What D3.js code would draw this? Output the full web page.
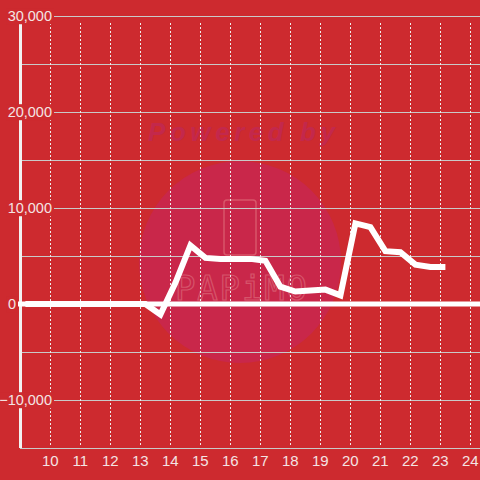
<!DOCTYPE html>
<html lang="en">
<head>
    <meta charset="UTF-8">
    <title>Chart</title>
    <script src="https://d3js.org/d3.v7.min.js"></script>
    <style>
        html, body { margin: 0; padding: 0; background: #cd2a2f; }
        #chart { width: 480px; height: 480px; }
    </style>
</head>
<body>
<div id="chart"></div>
<script>
    // half-hour readings, hours on x
    let hours = [9.17, 9.67, 10.17, 10.67, 11.17, 11.67, 12.17, 12.67, 13.17, 13.67, 14.17, 14.67,
        15.17, 15.67, 16.17, 16.67, 17.17, 17.67, 18.17, 18.67, 19.17, 19.67, 20.17, 20.67,
        21.17, 21.67, 22.17, 22.67, 23.17];
    let values = [0, 0, 0, 0, 0, 0, 0, 0, 0, -1100, 2200, 6100,
        4800, 4700, 4700, 4700, 4500, 1800, 1300, 1400, 1500, 900, 8400, 8000,
        5500, 5400, 4100, 3850, 3850];
    let xTicks = [10, 11, 12, 13, 14, 15, 16, 17, 18, 19, 20, 21, 22, 23, 24];
    let yGrid = [-15000, -10000, -5000, 5000, 10000, 15000, 20000, 25000, 30000];
    let yLabels = [30000, 20000, 10000, 0, -10000];

    let width = 480, height = 480;
    let bg = '#cd2a2f';
    let svg = d3.select('#chart').append('svg').attr('width', width).attr('height', height);
    svg.append('rect').attr('width', width).attr('height', height).attr('fill', bg);

    let x = d3.scaleLinear().domain([9, 24]).range([20.3, 470.3]);
    let y = d3.scaleLinear().domain([-15000, 30000]).range([448, 16]);

    // watermark
    let wm = svg.append('g');
    wm.append('circle').attr('cx', 240).attr('cy', 262).attr('r', 101).attr('fill', '#c9274a');
    wm.append('text').attr('x', 148).attr('y', 141)
        .attr('font-family', 'Liberation Sans, Arial, sans-serif')
        .attr('font-size', 26).attr('font-weight', 'bold').attr('font-style', 'italic')
        .attr('textLength', 187).attr('fill', '#c3284c').text('Powered by');
    wm.append('rect').attr('x', 224).attr('y', 200).attr('width', 32).attr('height', 55).attr('rx', 3)
        .attr('fill', 'none').attr('stroke', '#d8566a').attr('stroke-width', 1.5);
    wm.append('text').attr('x', 175).attr('y', 300)
        .attr('font-family', 'DejaVu Sans Mono, monospace')
        .attr('font-size', 34).attr('textLength', 132)
        .attr('fill', 'none').attr('stroke', '#d6546a').attr('stroke-width', 1.2).text('PAPiMO');

    // horizontal grid
    svg.append('g').selectAll('line').data(yGrid).join('line')
        .attr('x1', 20).attr('x2', width)
        .attr('y1', d => y(d) + 0.5).attr('y2', d => y(d) + 0.5)
        .attr('stroke', '#c9c9c9').attr('stroke-width', 1);

    // vertical dotted grid
    svg.append('g').selectAll('line').data(xTicks).join('line')
        .attr('x1', d => Math.round(x(d)) + 0.5).attr('x2', d => Math.round(x(d)) + 0.5)
        .attr('y1', 23).attr('y2', 446)
        .attr('stroke', '#eeeeee').attr('stroke-width', 1).attr('stroke-dasharray', '2,2');

    // y axis line
    svg.append('line').attr('x1', 20.5).attr('x2', 20.5).attr('y1', y(30000)).attr('y2', y(-15000))
        .attr('stroke', '#f2f2f2').attr('stroke-width', 3);

    // zero line
    svg.append('line').attr('x1', 17).attr('x2', width).attr('y1', y(0)).attr('y2', y(0))
        .attr('stroke', '#ffffff').attr('stroke-width', 5);

    // series line
    let line = d3.line().x((d, i) => x(hours[i])).y(d => y(d));
    svg.append('path').datum(values).attr('d', line)
        .attr('fill', 'none').attr('stroke', '#ffffff').attr('stroke-width', 6)
        .attr('stroke-linejoin', 'miter');

    // y labels with background
    let fmt = d3.format(',');
    let lab = svg.append('g').selectAll('g').data(yLabels).join('g');
    lab.append('rect').attr('fill', bg);
    lab.append('text')
        .attr('x', d => d === 0 ? 16 : 52)
        .attr('y', d => y(d))
        .attr('dy', '0.36em')
        .attr('text-anchor', 'end')
        .attr('font-family', 'Liberation Sans, Arial, sans-serif')
        .attr('font-size', 14.5)
        .attr('fill', '#f4e4e4')
        .text(d => fmt(d));
    lab.each(function () {
        let g = d3.select(this);
        let b = g.select('text').node().getBBox();
        g.select('rect').attr('x', b.x - 1).attr('y', b.y).attr('width', b.width + 3).attr('height', b.height);
    });

    // x labels
    svg.append('g').selectAll('text').data(xTicks).join('text')
        .attr('x', d => x(d))
        .attr('y', 466)
        .attr('text-anchor', 'middle')
        .attr('font-family', 'Liberation Sans, Arial, sans-serif')
        .attr('font-size', 15)
        .attr('fill', '#f4e4e4')
        .text(d => d);
</script>
</body>
</html>
